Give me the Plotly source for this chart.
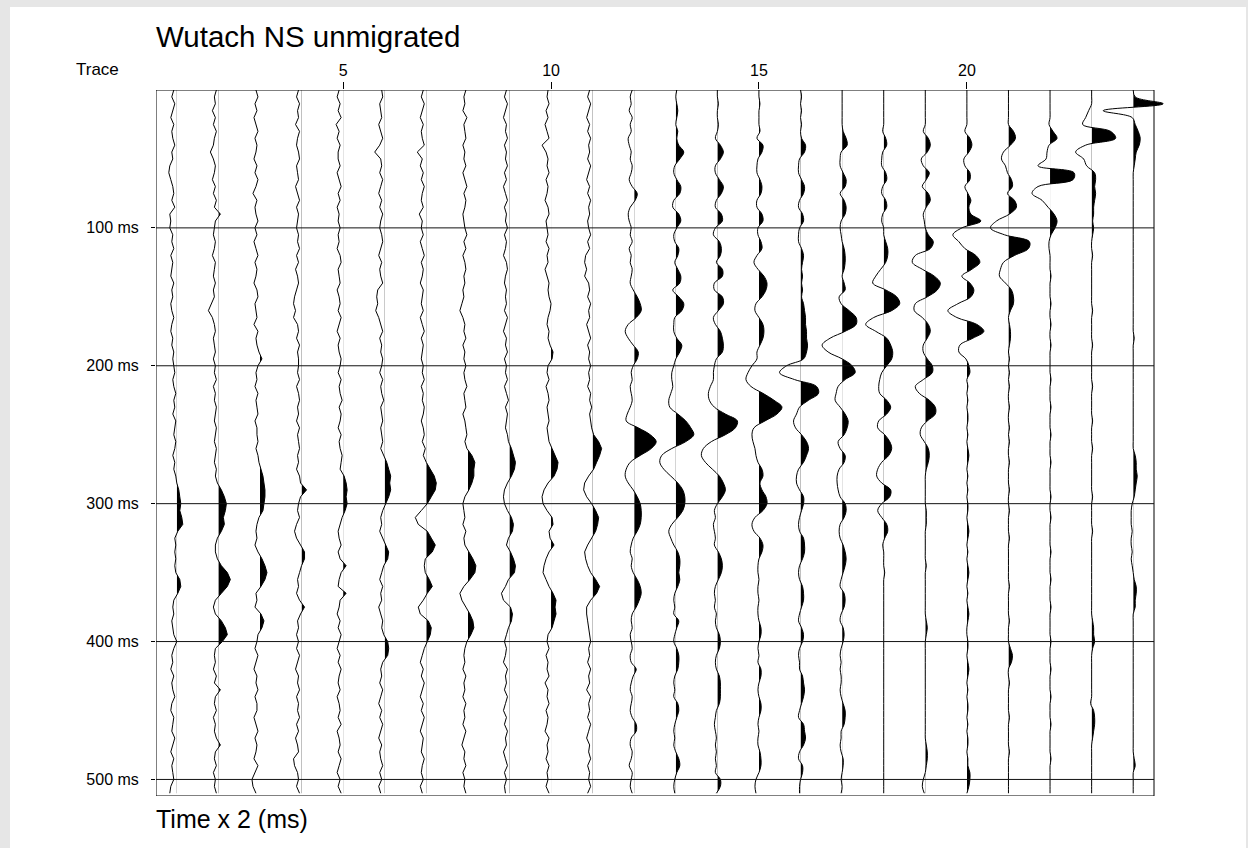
import plotly.graph_objects as go

# ---------------- data (amplitudes in display units, + = right) ----------------
SAMPLE_MS = list(range(0, 511, 5))

trace01 = [-3,-5,-2,-4,-6,-3,-5,-4,-2,-5,
           -4,-7,-8,-6,-4,-3,-5,-2,-7,-6,
           -7,-4,-5,-3,-6,-4,-5,-6,-3,-5,
           -4,-6,-5,-3,-5,-6,-4,-5,-3,-4,
           -3,-2,-4,-3,-1,-3,-2,-4,-1,-2,
           -3,-1,-2,-4,-2,-3,-1,0,2,3,
           4,3,5,6,1,-2,-1,-2,-1,-2,
           -1,3,4,1,-3,-4,-3,-5,-4,-3,
           0,-3,-5,-4,-6,-3,-5,-4,-2,-5,
           -6,-3,-4,-5,-2,-4,-6,-3,-5,-4,
           -3,-6,-7]
trace02 = [-2,-4,-3,-6,-3,-5,-2,-4,-5,-8,
           -5,-3,-4,-6,-3,-5,-2,-4,2,-3,
           -4,-5,-3,-4,-6,-3,-4,-5,-3,-5,
           -4,-7,-10,-6,-4,-3,-5,-4,-3,-5,
           -3,-4,-2,-5,-3,-4,-2,-3,-4,-2,
           -3,-4,-2,-3,-4,-2,-3,-1,3,6,
           8,7,5,6,3,-1,-3,-3,-1,3,
           9,12,9,3,-3,-5,-3,3,7,9,
           4,-3,-4,-3,-5,-2,-4,2,-3,-4,
           -2,-5,-3,-4,-2,2,-3,-4,-2,-5,
           -3,-4,-2]
trace03 = [-4,-2,-5,-3,-6,-4,-2,-5,-3,-4,
           -6,-3,-5,-2,-4,-7,-3,-5,-4,-2,
           -5,-3,-6,-4,-2,-5,-3,-4,-6,-3,
           -2,-5,-4,-3,-6,-2,-4,-3,-1,2,
           -2,-4,-3,-5,-2,-4,-3,-2,-5,-3,
           -3,-2,-4,-2,-1,1,3,4,5,5,
           4,3,-1,-3,-4,-3,-5,-2,2,5,
           7,5,1,-4,-3,-5,1,4,2,-2,
           -3,-5,-2,-4,-6,-3,-4,-2,-5,-3,
           -3,-6,-4,-2,-5,-3,-4,-6,-2,-5,
           -8,-7,-4]
trace04 = [-3,-5,-2,-4,-3,-6,-2,-4,-5,-3,
           -2,-5,-4,-3,-6,-4,-2,-5,-3,-4,
           -5,-3,-4,-2,-5,-3,-6,-4,-3,-5,
           -7,-8,-6,-8,-4,-3,-5,-2,-4,-3,
           -3,-4,-2,-5,-3,-2,-4,-3,-5,-2,
           -4,-3,-2,-4,-3,-5,-2,-1,5,-1,
           -3,-4,-2,-5,-7,-5,-1,3,3,0,
           -2,-4,-3,-5,-2,3,-1,-4,-3,-5,
           -3,-5,-2,-4,-6,-3,-4,-2,-5,-3,
           -4,-2,-5,-3,-6,-4,-3,-8,-7,-4,
           -3,-5,-2]
trace05 = [-4,-6,-3,-5,-2,-7,-4,-6,-3,-5,
           -5,-3,-6,-4,-2,-5,-3,-6,-4,-5,
           -3,-5,-4,-6,-3,-2,-5,-4,-3,-6,
           -4,-3,-5,-2,-4,-6,-3,-5,-4,-2,
           -3,-5,-2,-4,-3,-1,-4,-2,-3,-5,
           -2,-4,-3,-1,-2,-3,1,3,4,3,
           4,2,-1,-3,-5,-4,-2,-5,-3,3,
           -2,-4,-5,3,-3,-4,-6,-3,-5,-2,
           -4,-6,-3,-5,-2,-4,-5,-3,-6,-4,
           -3,-5,-2,-6,-4,-3,-5,-2,-4,-6,
           -3,-5,-2]
trace06 = [-3,-2,-5,-4,-3,-6,-4,-2,-5,-10,
           -4,-3,-5,-2,-4,-6,-3,-5,-2,-4,
           -5,-3,-2,-4,-6,-3,-5,-4,-2,-7,
           -8,-7,-9,-6,-4,-2,-5,-3,-4,-2,
           -3,-5,-2,-4,-3,-1,-4,-3,-2,-4,
           -3,-2,-4,-1,2,4,6,5,6,4,
           1,-2,-4,-3,-5,-2,1,4,3,-1,
           -3,-5,-2,-4,-3,-6,-4,-2,-3,-1,
           3,4,3,-2,-4,-3,-5,-2,-4,-6,
           -3,-5,-2,-4,-6,-3,-5,-4,-2,-5,
           -3,-6,-4]
trace07 = [-3,-5,-2,-4,-6,-3,-5,-4,-2,-9,
           -4,-6,-3,-5,-2,-4,-5,-3,-7,-4,
           -5,-3,-6,-4,-2,-5,-3,-4,-6,-3,
           -4,-5,-3,-6,-4,-2,-5,-3,-4,-5,
           -3,-4,-2,-5,-3,-4,-2,-3,-5,-3,
           -2,-4,-1,-3,0,4,8,10,9,5,
           1,-5,-11,-8,1,5,9,6,-1,-2,
           -1,3,6,1,-3,-8,-6,2,5,4,
           1,-2,-4,-6,-3,-5,-2,-4,-6,-3,
           -5,-2,-4,-6,-3,-4,-5,-2,-4,-5,
           -3,-6,-4]
trace08 = [-2,-4,-3,-5,-1,-4,-3,-2,-5,-3,
           -4,-2,-5,-3,-1,-4,-2,-3,-5,-4,
           -3,-1,-4,-2,-5,-3,-2,-4,-3,-5,
           -4,-6,-8,-5,-3,-4,-2,-5,-3,-4,
           -2,-4,-3,-1,-4,-3,-2,-5,-3,-2,
           -1,-3,-1,4,7,6,6,4,1,-3,
           -5,-4,-3,-5,-2,-4,-3,1,5,8,
           7,2,-4,-8,-6,-2,2,5,6,3,
           -1,-3,-4,-3,-5,-2,-4,-3,-5,-2,
           -4,-3,-5,-2,-4,-6,-3,-4,-2,-5,
           -3,-4,-2]
trace09 = [-3,-5,-2,-4,-6,-3,-4,-2,-5,-3,
           -4,-2,-5,-3,-6,-4,-2,-5,-3,-4,
           -2,-5,-3,-4,-6,-3,-2,-4,-5,-3,
           -4,-3,-5,-2,-4,-6,-3,-4,-2,-5,
           -3,-4,-2,-5,-3,-1,-4,-2,-3,-4,
           -2,-1,2,4,6,5,2,-2,-5,-6,
           -5,-2,2,4,3,-1,-3,1,4,6,
           5,-1,-4,-8,-6,1,3,2,-1,-3,
           -5,-3,-4,-6,-2,-4,-3,-5,-2,-4,
           -6,-3,-5,-2,-4,-3,-6,-4,-2,-5,
           -3,-5,-4]
trace10 = [-3,-4,-2,-5,-3,-6,-4,-2,-9,-5,
           -3,-4,-2,-5,-3,-4,-6,-3,-2,-5,
           -4,-3,-5,-2,-4,-3,-6,-4,-2,-3,
           -2,0,-1,-3,-4,-2,-3,-1,2,1,
           -3,-4,-2,-5,-3,-2,-4,-3,-2,-4,
           -3,-2,1,4,7,6,3,-3,-7,-9,
           -8,-4,1,2,-2,-1,3,-2,-5,-7,
           -8,-5,-2,2,5,4,5,3,1,-3,
           -4,-2,-5,-3,-4,-2,-6,-3,-4,-2,
           -5,-3,-4,-6,-2,-4,-3,-5,-2,-4,
           -3,-5,-2]
trace11 = [-3,-5,-2,-4,-6,-3,-5,-2,-4,-3,
           -5,-2,-4,-6,-3,-5,-2,-4,-3,-5,
           -4,-2,-5,-3,-7,-8,-6,-8,-4,-3,
           -5,-2,-4,-3,-6,-4,-2,-5,-3,-4,
           -2,-4,-3,-5,-2,-3,-1,-3,-2,-1,
           1,6,9,7,4,1,-4,-8,-9,-6,
           -1,3,6,5,3,-1,-5,-8,-7,-5,
           -2,3,7,4,-2,-6,-6,-5,-4,-3,
           -2,-4,-3,-5,-2,-4,-3,-6,-2,-4,
           -3,-5,-2,-4,-6,-3,-4,-2,-5,-3,
           -4,-2,-5]
trace12 = [-2,-4,-3,-5,-2,-4,-3,-6,-5,-3,
           -4,-2,-3,-5,-2,3,1,-4,-6,-5,
           -3,-4,-2,-5,-3,-4,-2,-3,-4,-1,
           3,6,7,2,-6,-9,-6,-1,4,3,
           -1,-3,-2,-4,-3,-2,-4,-7,-8,4,
           16,22,17,6,-4,-8,-9,-6,-1,3,
           6,7,7,6,3,-1,-3,-4,-2,-3,
           -1,3,6,7,5,2,-2,-3,-2,-4,
           -3,-2,-4,-3,2,-1,-3,-4,-2,-3,
           -4,-2,2,2,-3,-4,-2,-3,-5,-2,
           -3,-4,-2]
trace13 = [1,0,1,2,1,0,2,1,3,8,
           4,-1,-2,1,5,4,-2,-3,3,5,
           1,-2,-1,3,2,-1,2,5,4,-3,
           3,8,6,-1,-2,-2,1,6,4,0,
           -2,-4,-4,-3,-5,-7,-6,2,10,15,
           18,10,-4,-14,-16,-12,-5,2,7,9,
           9,7,2,-4,-7,-5,-2,2,4,4,
           3,4,2,-1,-2,-1,-2,3,1,-1,
           -2,1,3,3,2,-1,-2,-1,-2,2,
           3,1,-1,-2,-1,-2,0,3,4,1,
           -1,-2,-1]
trace14 = [0,0,1,0,0,1,0,-2,3,6,
           3,-2,-2,2,6,4,-1,-2,4,5,
           -2,-4,2,4,3,-1,5,5,-3,-3,
           5,6,1,-4,-2,3,5,6,5,-1,
           -3,-4,-4,-7,-9,-8,-3,8,20,18,
           8,-6,-14,-16,-12,-5,2,6,8,5,
           0,-3,-2,-4,-3,-2,-3,1,4,5,
           4,1,-2,-3,-2,-3,-1,-2,-1,2,
           3,2,-1,-2,-1,2,3,3,3,2,
           -1,-2,-3,-2,-1,-2,-1,-2,-1,-2,
           3,3,-1]
trace15 = [0,0,1,0,0,0,1,-2,4,3,
           -1,-2,-2,1,3,2,-2,-2,3,4,
           -1,-1,2,3,-2,-5,-1,5,8,7,
           3,-3,-4,0,4,5,4,1,-2,-2,
           -7,-11,-13,-8,4,15,23,18,6,-5,
           -7,-6,-4,-3,-1,3,4,1,3,7,
           8,4,-4,-7,-5,1,4,3,0,-1,
           -1,0,-1,-1,0,-1,-1,0,2,2,
           0,-1,0,-1,2,2,0,-1,0,2,
           2,0,-1,0,-1,-1,1,2,2,0,
           -3,-4,-3]
trace16 = [0,1,0,1,0,1,0,1,5,4,
           -1,-2,-2,1,4,3,-1,-2,2,3,
           -1,-2,-2,1,3,2,1,2,1,2,
           1,3,4,5,5,6,6,7,6,3,
           -14,-21,-6,16,18,8,-1,-4,-7,-5,
           1,6,8,6,3,-2,-4,-4,-1,3,
           3,1,-1,-2,-1,3,4,4,2,-1,
           -2,-1,2,3,3,1,-1,-2,1,3,
           2,-1,-2,-1,-1,2,3,4,3,1,
           -1,-2,3,4,5,3,-1,-2,2,2,
           0,-1,-1]
trace17 = [0,0,0,0,0,0,1,4,5,-1,
           -2,-2,1,4,3,-2,2,4,3,-1,
           -2,-1,0,2,3,3,2,0,2,3,
           -3,-1,7,14,14,3,-12,-20,-14,0,
           10,13,3,-4,-6,-7,-2,3,6,5,
           2,-4,-2,3,2,-3,-5,-5,-4,-2,
           3,4,2,-2,-3,-2,1,3,4,3,
           1,-1,-2,2,3,2,-1,-2,1,2,
           1,-1,-2,-1,-2,-1,-1,-2,-1,1,
           3,3,2,-1,-1,-2,-1,1,1,0,
           -1,0,-1]
trace18 = [0,0,0,0,0,0,-1,2,3,-1,
           -2,-2,2,3,-1,-2,2,3,-1,-2,
           0,0,2,4,4,2,-3,-8,-11,2,
           13,16,8,-10,-18,-8,3,7,9,8,
           3,-2,-4,-5,-4,3,7,3,-5,-6,
           1,6,8,5,-2,-6,-7,-2,7,6,
           -2,-6,-2,3,4,1,-1,0,0,0,
           1,0,0,0,0,0,0,0,0,0,
           0,0,0,0,0,0,0,0,0,0,
           0,0,0,0,0,0,0,0,0,0,
           0,0,0]
trace19 = [0,0,0,0,0,0,-2,3,5,2,
           -4,-2,4,1,-3,3,5,1,-2,-1,
           0,3,8,5,-10,-13,-3,9,15,12,
           2,-10,-11,-3,3,5,2,-2,-2,2,
           7,7,-2,-10,-6,4,10,10,2,-4,
           -5,-1,3,4,3,1,0,0,0,0,
           0,1,1,1,0,0,0,0,0,1,
           0,0,0,0,0,0,0,1,2,1,
           0,0,0,0,0,0,0,0,0,0,
           0,0,0,0,0,1,2,2,1,0,
           -2,-3,-1]
trace20 = [0,0,0,0,0,0,-2,3,5,2,
           -3,-2,3,3,-2,1,4,2,4,14,
           -5,-14,-8,-2,9,13,5,-5,3,7,
           4,-9,-19,-10,10,17,6,-7,-8,-1,
           2,3,0,1,0,1,0,1,1,0,
           1,0,1,2,1,0,1,0,1,0,
           1,1,0,1,2,1,0,1,0,1,
           2,1,0,1,0,1,2,1,0,0,
           1,1,0,1,2,1,0,1,0,1,
           1,0,1,0,1,1,0,1,1,3,
           3,2,0]
trace21 = [0,0,0,0,0,0,5,7,2,-5,
           -7,-3,-1,3,4,-1,6,8,1,-12,
           -18,-4,21,20,6,-5,-8,-9,-3,3,
           5,5,2,0,1,2,2,1,0,1,
           0,1,0,1,0,0,1,0,0,1,
           0,1,0,0,1,0,0,0,1,0,
           0,1,0,0,0,1,0,0,0,0,
           0,0,1,0,0,0,0,1,0,0,
           0,2,4,3,0,0,1,0,0,0,
           0,1,0,0,0,0,1,0,0,0,
           0,0,0]
trace22 = [0,0,0,0,0,-1,3,7,-1,-3,
           -4,-12,24,23,-12,-18,-8,-2,4,7,
           5,1,-1,-1,0,0,0,1,0,0,
           0,1,0,0,1,0,0,1,0,0,
           0,0,1,0,0,0,1,0,0,0,
           1,0,0,0,1,0,0,0,0,1,
           0,0,1,0,0,0,0,1,0,0,
           0,1,0,0,0,1,0,0,0,0,
           1,0,0,0,1,0,0,0,1,0,
           0,0,1,0,0,0,0,1,0,0,
           0,0,0]
trace23 = [0,0,0,-3,-6,-9,19,24,-6,-16,
           -8,-5,3,4,3,4,3,2,2,1,
           2,1,0,0,1,0,0,0,0,0,
           0,0,1,0,0,0,0,1,0,0,
           0,0,0,1,0,0,0,0,1,0,
           0,0,1,0,0,0,0,0,0,1,
           0,0,0,0,1,0,0,0,0,0,
           0,0,0,0,0,0,0,1,2,2,
           3,1,0,0,0,0,0,0,0,-1,
           2,3,3,2,1,0,0,0,0,0,
           0,0,0]
trace24 = [0,2,30,-30,-1,2,5,7,6,3,
           2,1,0,0,0,0,0,0,0,0,
           0,0,0,0,0,0,0,0,0,0,
           0,0,0,0,0,0,1,0,0,0,
           0,0,0,0,0,0,0,0,0,0,
           0,0,0,2,3,3,4,3,2,1,
           -1,-2,-2,-2,-1,-2,-2,-1,-2,-1,
           0,1,3,3,2,2,0,0,0,0,
           0,0,0,0,0,0,0,0,0,0,
           0,0,0,0,0,0,0,1,2,0,
           0,0,0]

TRACES = [trace01, trace02, trace03, trace04, trace05, trace06, trace07, trace08,
          trace09, trace10, trace11, trace12, trace13, trace14, trace15, trace16,
          trace17, trace18, trace19, trace20, trace21, trace22, trace23, trace24]
TRACE_NUMBERS = list(range(1, len(TRACES) + 1))

X_TICKS = [5, 10, 15, 20]
Y_TICKS = [100, 200, 300, 400, 500]
Y_TICK_TEXT = ["100 ms", "200 ms", "300 ms", "400 ms", "500 ms"]
TITLE = "Wutach NS unmigrated"
X_LABEL = "Trace"
Y_LABEL = "Time x 2 (ms)"

# ---------------- layout / style ----------------
W, H = 1248, 848
ML, MR, MT, MB = 156, 73, 90, 52
PLOT_W = W - ML - MR
PLOT_H = H - MT - MB
N = len(TRACES)
PX_PER_TRACE = 998 / N            # frame spans traces 0.5 .. N+0.5
X0 = 0.5
X1 = X0 + PLOT_W / PX_PER_TRACE
T_MAX = 512
GAIN = PX_PER_TRACE               # amplitude units per trace spacing
NOISY_UP_TO = 11                  # these traces are drawn with straight segments (jagged noise)
FONT = "Liberation Sans, Arial, sans-serif"


def px_x(px):
    return (px - ML) / PLOT_W


def px_y(py):
    return (H - MB - py) / PLOT_H


def shape_for(num):
    return "linear" if num <= NOISY_UP_TO else "spline"


fig = go.Figure()
extra_axes = {}

# positive lobes: each filled on its own hidden x-axis whose domain starts at the trace baseline,
# so the fill is clipped exactly at the baseline
for i, (num, amps) in enumerate(zip(TRACE_NUMBERS, TRACES)):
    ax = i + 2
    extra_axes[f"xaxis{ax}"] = dict(domain=[(num - X0) / (X1 - X0), 1], range=[0, X1 - num],
                                    visible=False, anchor="y", fixedrange=True)
    fig.add_trace(go.Scatter(x=[a / GAIN for a in amps], y=SAMPLE_MS, xaxis=f"x{ax}", yaxis="y",
                             mode="lines", line=dict(width=0, shape=shape_for(num), color="black"),
                             fill="tozerox", fillcolor="black", hoverinfo="skip", showlegend=False))

# wiggle lines
for num, amps in zip(TRACE_NUMBERS, TRACES):
    fig.add_trace(go.Scatter(x=[num + a / GAIN for a in amps], y=SAMPLE_MS, xaxis="x", yaxis="y",
                             mode="lines", line=dict(color="black", width=1, shape=shape_for(num)),
                             hoverinfo="skip", showlegend=False))

shapes = [
    dict(type="rect", xref="paper", yref="paper", x0=px_x(10), x1=px_x(1246), y0=px_y(848), y1=px_y(7),
         fillcolor="white", line=dict(width=0), layer="below"),
    dict(type="rect", xref="x", yref="y", x0=X0, x1=N + 0.5, y0=0, y1=T_MAX,
         line=dict(color="black", width=1), layer="above"),
]
for t in Y_TICKS:
    shapes.append(dict(type="line", xref="x", yref="y", x0=X0, x1=N + 0.5, y0=t, y1=t,
                       line=dict(color="#111111", width=1), layer="above"))

annotations = [
    dict(text=TITLE, xref="paper", yref="paper", x=px_x(154), y=px_y(37), xanchor="left", yanchor="middle",
         showarrow=False, font=dict(family=FONT, size=29.5, color="black")),
    dict(text=X_LABEL, xref="paper", yref="paper", x=px_x(121), y=px_y(70), xanchor="right", yanchor="middle",
         showarrow=False, font=dict(family=FONT, size=17, color="black")),
    dict(text=Y_LABEL, xref="paper", yref="paper", x=px_x(154), y=px_y(819), xanchor="left", yanchor="middle",
         showarrow=False, font=dict(family=FONT, size=25, color="black")),
]

fig.update_layout(
    width=W, height=H, autosize=False,
    margin=dict(l=ML, r=MR, t=MT, b=MB, pad=0),
    paper_bgcolor="#e6e6e6", plot_bgcolor="rgba(0,0,0,0)",
    showlegend=False,
    xaxis=dict(domain=[0, 1], range=[X0, X1], side="top", anchor="y", tickvals=X_TICKS,
               ticks="outside", ticklen=7, tickcolor="black", showgrid=False, zeroline=False,
               showline=False, tickfont=dict(family=FONT, size=16, color="black"), fixedrange=True),
    yaxis=dict(domain=[0, 1], range=[T_MAX, 0], anchor="x", tickvals=Y_TICKS, ticktext=Y_TICK_TEXT,
               ticks="outside", ticklen=4, tickcolor="black", showgrid=False, zeroline=False,
               showline=False, tickfont=dict(family=FONT, size=16, color="black"),
               ticklabelstandoff=9, fixedrange=True),
    shapes=shapes,
    annotations=annotations,
    **extra_axes,
)

fig.write_html("out.html")
